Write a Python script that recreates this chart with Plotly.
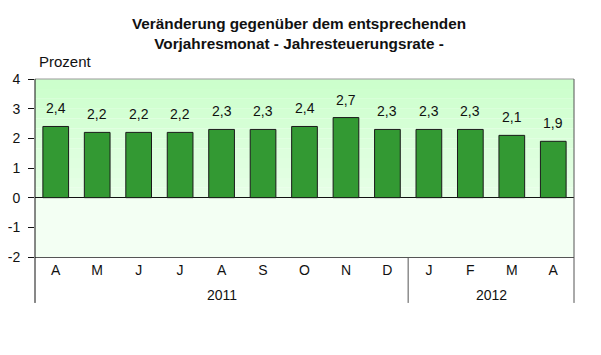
import plotly.graph_objects as go

months = ["A", "M", "J", "J", "A", "S", "O", "N", "D", "J", "F", "M", "A"]
values = [2.4, 2.2, 2.2, 2.2, 2.3, 2.3, 2.4, 2.7, 2.3, 2.3, 2.3, 2.1, 1.9]
years = ["2011", "2012"]
year_centers = [4, 10.5]
year_divider = 8.5
y_ticks = [-2, -1, 0, 1, 2, 3, 4]

xpos = list(range(len(months)))
labels = [f"{v:.1f}".replace(".", ",") for v in values]
y_ticktext = [str(t) for t in y_ticks]

FONT = "Liberation Sans, Arial, sans-serif"

fig = go.Figure()
fig.add_trace(go.Bar(
    x=xpos, y=values,
    marker=dict(color="#339933", line=dict(color="#1a1a1a", width=1)),
    width=0.62, hoverinfo="x+y",
))

shapes = []
n = 12
top_c = (0xcc, 0xff, 0xcc)
bot_c = (0xe6, 0xff, 0xe6)
for i in range(n):
    t = i / (n - 1)
    c = tuple(int(round(top_c[k] + (bot_c[k] - top_c[k]) * t)) for k in range(3))
    y1 = 4 - 4 * i / n
    y0 = 4 - 4 * (i + 1) / n
    shapes.append(dict(type="rect", xref="paper", yref="y", x0=0, x1=1, y0=y0, y1=y1,
                       fillcolor="rgb(%d,%d,%d)" % c, line=dict(width=0), layer="below"))
shapes.append(dict(type="rect", xref="paper", yref="y", x0=0, x1=1, y0=-2, y1=0,
                   fillcolor="#f3fff3", line=dict(width=0), layer="below"))
shapes.append(dict(type="line", xref="paper", yref="paper", x0=0, x1=1, y0=1, y1=1,
                   line=dict(color="#999999", width=1)))
shapes.append(dict(type="line", xref="paper", yref="paper", x0=0, x1=0, y0=1, y1=-0.258,
                   line=dict(color="#111111", width=1)))
shapes.append(dict(type="line", xref="paper", yref="paper", x0=1, x1=1, y0=1, y1=-0.258,
                   line=dict(color="#555555", width=1)))
shapes.append(dict(type="line", xref="x", yref="paper", x0=year_divider, x1=year_divider,
                   y0=0, y1=-0.258, line=dict(color="#555555", width=1)))

annotations = []
for xv, yv, lab in zip(xpos, values, labels):
    annotations.append(dict(x=xv, y=yv, xref="x", yref="y", text=lab, showarrow=False,
                            xanchor="center", yanchor="bottom", yshift=8,
                            font=dict(size=14, color="#111111", family=FONT)))
for yr, xc in zip(years, year_centers):
    annotations.append(dict(x=xc, y=-0.213, xref="x", yref="paper", text=yr, showarrow=False,
                            font=dict(size=14, color="#111111", family=FONT), yanchor="middle"))
annotations.append(dict(x=0.003, y=1.096, xref="paper", yref="paper", text="Prozent",
                        showarrow=False, xanchor="left", yanchor="middle",
                        font=dict(size=15, color="#111111", family=FONT)))
annotations.append(dict(x=0.49, y=1.258, xref="paper", yref="paper",
                        text="<b>Veränderung gegenüber dem entsprechenden<br>Vorjahresmonat - Jahresteuerungsrate -</b>",
                        showarrow=False, xanchor="center", yanchor="middle",
                        font=dict(size=15.3, color="#111111", family=FONT)))

fig.update_layout(
    width=593, height=347,
    margin=dict(l=27, r=27, t=71, b=98, autoexpand=False),
    paper_bgcolor="white", plot_bgcolor="white",
    showlegend=False,
    shapes=shapes, annotations=annotations,
    xaxis=dict(range=[-0.5, 12.5], tickvals=xpos, ticktext=months, showgrid=False,
               zeroline=False, showline=True, linecolor="#555555", linewidth=1,
               ticks="", automargin=False, ticklabelstandoff=0,
               tickfont=dict(size=14, color="#111111", family=FONT)),
    yaxis=dict(range=[-2, 4], tickvals=y_ticks, ticktext=y_ticktext, showgrid=False,
               zeroline=True, zerolinecolor="#111111", zerolinewidth=1, showline=False,
               ticks="outside", ticklen=6, tickcolor="#111111", automargin=False,
               ticklabelstandoff=5,
               tickfont=dict(size=14, color="#111111", family=FONT)),
)

fig.write_html("out.html")
